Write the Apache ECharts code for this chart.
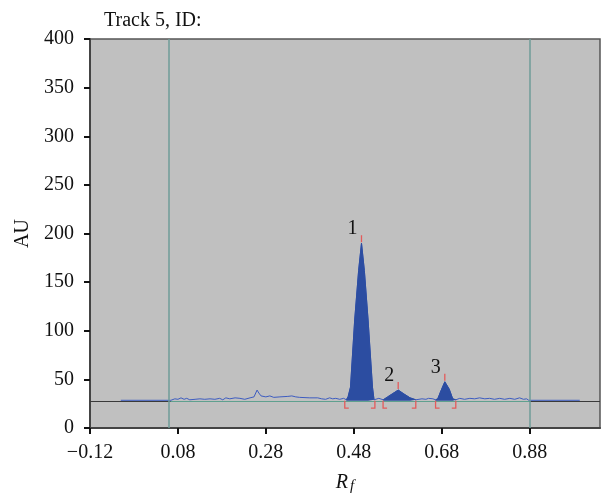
<!DOCTYPE html>
<html>
<head>
<meta charset="utf-8">
<script src="https://cdn.jsdelivr.net/npm/echarts@6/dist/echarts.min.js"></script>
<style>
html, body { margin: 0; background: #fff; }
#chart { width: 602px; height: 496px; }
</style>
</head>
<body>
<div id="chart"></div>
<script>
// densitogram trace (Rf, AU)
const traceLeft = [
    [-0.05, 28.5], [0.064, 28.5], [0.073, 30], [0.080, 29.5], [0.087, 31], [0.094, 29.5],
    [0.100, 30.5], [0.107, 29], [0.119, 29.5], [0.130, 30], [0.141, 29.5], [0.153, 30],
    [0.164, 29.5], [0.175, 30.5], [0.182, 29], [0.189, 31], [0.198, 30], [0.210, 31],
    [0.221, 30.5], [0.232, 29.5], [0.244, 31], [0.253, 32], [0.260, 39], [0.264, 36],
    [0.269, 33], [0.273, 35], [0.280, 32], [0.289, 33], [0.298, 31.5], [0.312, 32],
    [0.330, 32.5], [0.339, 33], [0.348, 32], [0.357, 31.5], [0.380, 31], [0.398, 31],
    [0.407, 30], [0.416, 29.5], [0.425, 31], [0.432, 30], [0.439, 30.5], [0.448, 29.5],
    [0.457, 30.5]
];
const peak1 = [
    [0.463, 29], [0.467, 32], [0.4725, 42], [0.482, 111], [0.491, 162], [0.4975, 190],
    [0.504, 162], [0.5125, 111], [0.5225, 42], [0.526, 29]
];
const gap12 = [[0.530, 29.5], [0.537, 30.5], [0.541, 29.5]];
const peak2 = [
    [0.547, 29], [0.557, 32], [0.569, 35.5], [0.581, 39], [0.594, 35], [0.608, 31], [0.621, 29]
];
const gap23 = [[0.625, 29.5], [0.635, 30], [0.644, 29.5], [0.650, 30.5], [0.660, 30]];
const peak3 = [
    [0.666, 29], [0.671, 30], [0.678, 38], [0.687, 47.5], [0.697, 40], [0.705, 30], [0.712, 29]
];
const traceRight = [
    [0.721, 30.5], [0.732, 29.5], [0.744, 30.5], [0.755, 30], [0.766, 31], [0.778, 30],
    [0.789, 30.5], [0.800, 29.5], [0.812, 30.5], [0.823, 29.5], [0.835, 30.5], [0.846, 29.5],
    [0.857, 31], [0.866, 29.5], [0.873, 30], [0.878, 28.5], [0.994, 28.5]
];

// peak integration marks
const peakBounds = [[0.4595, 0.528], [0.5466, 0.621], [0.666, 0.712]];
const peakApex = [[0.4975, 190, '1'], [0.581, 39, '2'], [0.687, 47.5, '3']];
const baseline = 28;
const bracketLow = 20.5;
const trackLines = [0.063, 0.88];

const trace = [].concat(traceLeft, peak1, gap12, peak2, gap23, peak3, traceRight);

const serif = '"Liberation Serif", "DejaVu Serif", serif';
const fillBlue = '#2c4da1';
const lineBlue = '#3d5cc0';
const red = '#e35b5b';

const bracketData = [];
peakBounds.forEach(b => {
    bracketData.push([b[0], baseline, 1]);
    bracketData.push([b[1], baseline, -1]);
});

function fmtX(v) {
    return v.toFixed(2).replace('-', '\u2212');
}

function peakSeries(data) {
    return {
        type: 'line',
        data: data,
        symbol: 'none',
        silent: true,
        lineStyle: { color: fillBlue, width: 1 },
        areaStyle: { color: fillBlue, opacity: 1, origin: baseline },
        z: 4
    };
}

const myChart = echarts.init(document.getElementById('chart'));

const option = {
    animation: false,
    title: {
        text: 'Track 5, ID:',
        left: 99,
        top: 6,
        textStyle: { fontFamily: serif, fontSize: 20, fontWeight: 'normal', color: '#111' }
    },
    grid: {
        left: 90, right: 2, top: 39, bottom: 68,
        outerBoundsMode: 'none',
        containLabel: false,
        show: true,
        backgroundColor: '#c0c0c0',
        borderColor: '#555',
        borderWidth: 1.5
    },
    xAxis: {
        type: 'value',
        min: -0.12,
        max: 1.04,
        interval: 0.2,
        name: '{i|R}{s|f}',
        nameLocation: 'middle',
        nameGap: 43,
        nameTextStyle: {
            rich: {
                i: { fontFamily: serif, fontStyle: 'italic', fontSize: 20, color: '#111' },
                s: { fontFamily: serif, fontStyle: 'italic', fontSize: 15, color: '#111', verticalAlign: 'bottom', padding: [8, 0, 0, 2] }
            }
        },
        axisLine: { onZero: false, lineStyle: { color: '#444', width: 2 } },
        axisTick: { length: 6, lineStyle: { color: '#111', width: 2 } },
        axisLabel: {
            fontFamily: serif, fontSize: 20, color: '#111', margin: 15,
            formatter: fmtX,
            showMaxLabel: false
        },
        splitLine: { show: false }
    },
    yAxis: {
        type: 'value',
        min: 0,
        max: 400,
        interval: 50,
        name: 'AU',
        nameLocation: 'middle',
        nameGap: 56,
        nameTextStyle: { fontFamily: serif, fontSize: 20, color: '#111' },
        axisLine: { show: true, onZero: false, lineStyle: { color: '#444', width: 2 } },
        axisTick: { show: true, length: 6, lineStyle: { color: '#111', width: 2 } },
        axisLabel: { fontFamily: serif, fontSize: 20, color: '#111', margin: 16 },
        splitLine: { show: false }
    },
    series: [
        {
            type: 'line',
            data: trace,
            symbol: 'none',
            silent: true,
            lineStyle: { color: lineBlue, width: 1 },
            z: 3,
            markLine: {
                silent: true,
                symbol: 'none',
                label: { show: false },
                data: [
                    { yAxis: baseline, lineStyle: { color: '#3a3a3a', width: 1, type: 'solid' } },
                    { xAxis: trackLines[0], lineStyle: { color: '#6f9c98', width: 1.5, type: 'solid' } },
                    { xAxis: trackLines[1], lineStyle: { color: '#6f9c98', width: 1.5, type: 'solid' } },
                    [
                        { coord: [trackLines[0], baseline], lineStyle: { color: '#5fa08f', width: 1, type: 'solid' } },
                        { coord: [trackLines[1], baseline] }
                    ]
                ]
            }
        },
        peakSeries(peak1),
        peakSeries(peak2),
        peakSeries(peak3),
        {
            type: 'custom',
            data: bracketData,
            silent: true,
            encode: { x: 0, y: 1 },
            z: 5,
            renderItem: function (params, api) {
                const top = api.coord([api.value(0), baseline]);
                const bottom = api.coord([api.value(0), bracketLow]);
                const side = api.value(2);
                return {
                    type: 'polyline',
                    shape: { points: [top, bottom, [bottom[0] + side * 4, bottom[1]]] },
                    style: { stroke: red, lineWidth: 1.3, fill: null }
                };
            }
        },
        {
            type: 'custom',
            data: peakApex,
            silent: true,
            encode: { x: 0, y: 1 },
            z: 5,
            renderItem: function (params, api) {
                const p = api.coord([api.value(0), api.value(1)]);
                return {
                    type: 'group',
                    children: [
                        {
                            type: 'line',
                            shape: { x1: p[0], y1: p[1] - 1, x2: p[0], y2: p[1] - 8 },
                            style: { stroke: red, lineWidth: 1.3 }
                        },
                        {
                            type: 'text',
                            style: {
                                text: peakApex[params.dataIndex][2],
                                x: p[0] - 9, y: p[1] - 14,
                                align: 'center', verticalAlign: 'middle',
                                font: '20px ' + serif,
                                fill: '#111'
                            }
                        }
                    ]
                };
            }
        }
    ]
};

myChart.setOption(option);
</script>
</body>
</html>
